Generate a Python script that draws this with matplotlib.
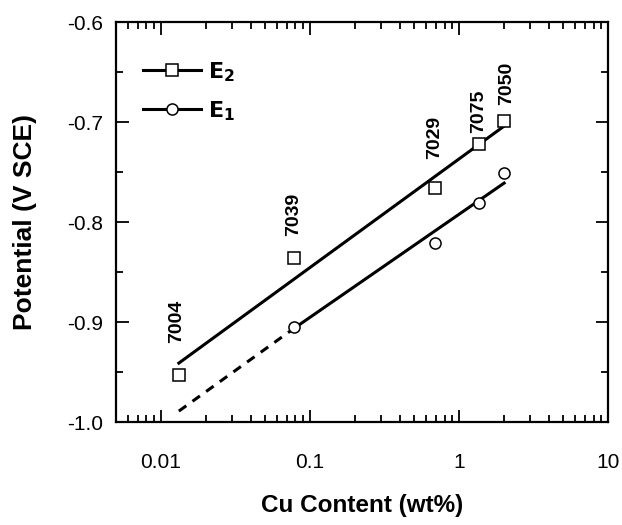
import matplotlib
matplotlib.use("Agg")
from matplotlib import pyplot as plt
from matplotlib.lines import Line2D

plt.rcParams['font.family'] = ['Liberation Sans', 'DejaVu Sans']

# alloys and Cu content (wt%)
alloys = ["7004", "7039", "7029", "7075", "7050"]
cu = [0.0132, 0.078, 0.69, 1.37, 2.01]

# measured potentials (V SCE)
e2 = [-0.953, -0.836, -0.766, -0.722, -0.699]
e1_cu = [0.078, 0.69, 1.37, 2.01]
e1 = [-0.905, -0.821, -0.781, -0.751]

# fitted lines
e2_fit_x = [0.0132, 2.01]
e2_fit_y = [-0.941, -0.704]
e1_fit_x = [0.077, 2.01]
e1_fit_y = [-0.907, -0.761]
e1_ext_x = [0.0132, 0.077]
e1_ext_y = [-0.989, -0.907]

# label positions (above each alloy)
label_x = [0.0127, 0.078, 0.69, 1.35, 2.09]
label_y = [-0.899, -0.792, -0.715, -0.689, -0.661]

fig = plt.figure(figsize=(6.22, 5.25), dpi=100)
ax = fig.add_axes([0.1865, 0.196, 0.791, 0.762])

ax.plot(e2_fit_x, e2_fit_y, color='black', lw=2.2)
ax.plot(e1_fit_x, e1_fit_y, color='black', lw=2.2)
ax.plot(e1_ext_x, e1_ext_y, color='black', lw=2.2, ls=(0, (3, 2.5)))
ax.plot(cu, e2, ls='none', marker='s', ms=8.5, mfc='white', mec='black', mew=1.1)
ax.plot(e1_cu, e1, ls='none', marker='o', ms=8, mfc='white', mec='black', mew=1.1)

for name, x, y in zip(alloys, label_x, label_y):
    ax.text(x, y, name, rotation=90, ha='center', va='center',
            fontsize=14, fontweight='bold')

ax.set_xscale('log')
ax.set_xlim(0.005, 10)
ax.set_ylim(-1.0, -0.6)
ax.set_xticks([0.01, 0.1, 1, 10])
ax.set_xticklabels(["0.01", "0.1", "1", "10"])
ax.set_yticks([-1.0, -0.9, -0.8, -0.7, -0.6])
ax.set_yticklabels(["-1.0", "-0.9", "-0.8", "-0.7", "-0.6"])
ax.set_yticks([-0.95, -0.85, -0.75, -0.65], minor=True)
ax.tick_params(which='both', direction='in', top=True, right=True,
               labelsize=15, width=1.3)
ax.tick_params(axis='x', which='both', pad=22)
ax.tick_params(axis='y', which='both', pad=9)
ax.tick_params(which='major', length=9)
ax.tick_params(which='minor', length=5)
for s in ax.spines.values():
    s.set_linewidth(1.6)

ax.set_xlabel("Cu Content (wt%)", fontsize=17.5, fontweight='bold', labelpad=16)
ax.set_ylabel("Potential (V SCE)", fontsize=19, fontweight='bold', labelpad=22)

handles = [Line2D([], [], color='black', lw=2.2, marker='s', ms=8, mfc='white', mec='black', mew=1.1),
           Line2D([], [], color='black', lw=2.2, marker='o', ms=8, mfc='white', mec='black', mew=1.1)]
ax.legend(handles, [r'$\mathbf{E_2}$', r'$\mathbf{E_1}$'], loc='upper left',
          frameon=False, fontsize=16, handlelength=2.6, handletextpad=0.3,
          labelspacing=0.7, bbox_to_anchor=(0.055, 0.905), borderaxespad=0,
          borderpad=0)

fig.savefig("out.png", dpi=100)
